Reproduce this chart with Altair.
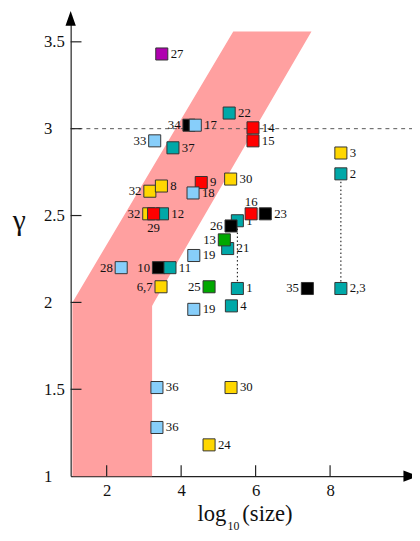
import altair as alt
import pandas as pd

# ---- data ----
labels = ["27", "22", "34", "17", "14", "15", "33", "37", "3", "2",
          "32", "8", "9", "18", "30", "32", "12", "29", "1", "26",
          "16", "23", "21", "13", "19", "28", "10", "11", "6,7", "25",
          "1", "35", "2,3", "4", "19", "36", "30", "36", "24"]
log_size = [3.48, 5.29, 4.21, 4.38, 5.93, 5.93, 3.29, 3.78, 8.29, 8.29,
            3.16, 3.47, 4.54, 4.32, 5.33, 3.13, 3.50, 3.26, 5.51, 5.34,
            5.88, 6.26, 5.25, 5.16, 4.34, 2.39, 3.39, 3.70, 3.46, 4.75,
            5.51, 7.39, 8.29, 5.35, 4.34, 3.35, 5.34, 3.35, 4.75]
gamma = [3.43, 3.09, 3.02, 3.02, 3.005, 2.93, 2.93, 2.89, 2.86, 2.74,
         2.64, 2.67, 2.69, 2.63, 2.71, 2.51, 2.51, 2.51, 2.47, 2.44,
         2.51, 2.51, 2.31, 2.36, 2.27, 2.20, 2.20, 2.20, 2.09, 2.09,
         2.08, 2.08, 2.08, 1.98, 1.96, 1.51, 1.51, 1.28, 1.18]
group = ["purple", "teal", "black", "lightblue", "red", "red", "lightblue", "teal", "yellow", "teal",
         "yellow", "yellow", "red", "lightblue", "yellow", "yellow", "teal", "red", "teal", "black",
         "red", "black", "teal", "green", "lightblue", "lightblue", "black", "teal", "yellow", "green",
         "teal", "black", "teal", "teal", "lightblue", "lightblue", "yellow", "lightblue", "yellow"]
label_side = ["right", "right", "left", "right", "right", "right", "left", "right", "right", "right",
              "left", "right", "right", "right", "right", "left", "right", "below", "right", "left",
              "above", "right", "right", "left", "right", "left", "left", "right", "left", "left",
              "right", "left", "right", "right", "right", "right", "right", "right", "right"]

# same network measured twice (dotted connectors)
link_x = [5.51, 8.29]
link_top = [2.47, 2.74]
link_bottom = [2.08, 2.08]

# shaded band (y, left x, right x)
band_y = [1.0, 1.98, 2.0, 3.56]
band_left = [1.08, 1.08, 1.08, 5.40]
band_right = [3.22, 3.22, 3.27, 7.50]

x_ticks = [2, 4, 6, 8]
y_ticks = [1, 1.5, 2, 2.5, 3, 3.5]
ref_gamma = 3.0

group_names = ["teal", "yellow", "red", "lightblue", "black", "green", "purple"]
group_colors = ["#00a8a8", "#ffd700", "#ff0000", "#87cefa", "#000000", "#00a800", "#b000b0"]

X_DOMAIN = [1.033, 10.2]
Y_DOMAIN = [1.0, 3.65]
W, H = 347, 468
SERIF = "'Liberation Serif', 'Times New Roman', 'DejaVu Serif', serif"

df = pd.DataFrame({"label": labels, "x": log_size, "y": gamma,
                   "group": group, "side": label_side, "idx": list(range(len(labels)))})
band = pd.DataFrame({"y": band_y, "xl": band_left, "xr": band_right})
links = pd.DataFrame({"x": link_x, "y1": link_top, "y2": link_bottom})

xs = alt.Scale(domain=X_DOMAIN, nice=False, zero=False)
ys = alt.Scale(domain=Y_DOMAIN, nice=False, zero=False)

x_axis = alt.Axis(values=x_ticks, title=None, ticks=False, tickSize=0, grid=False,
                  labelFont=SERIF, labelFontSize=17, labelColor="#111", labelPadding=7,
                  labelFlush=False, labelOverlap=False,
                  domainColor="#222", domainWidth=1.2)
y_axis = alt.Axis(values=y_ticks, title=None, ticks=False, tickSize=0, grid=False,
                  labelFont=SERIF, labelFontSize=17, labelColor="#111", labelPadding=27.7,
                  labelAlign="left", labelBaseline="middle", labelExpr="'' + datum.value",
                  labelFlush=False, labelOverlap=False,
                  domainColor="#222", domainWidth=1.2)

band_layer = alt.Chart(band).mark_area(orient="horizontal", color="#ffa0a0", opacity=1).encode(
    y=alt.Y("y:Q", scale=ys, axis=y_axis),
    x=alt.X("xl:Q", scale=xs, axis=x_axis),
    x2="xr:Q",
)

dash_layer = alt.Chart(pd.DataFrame({"g": [ref_gamma]})).mark_rule(
    color="#555", strokeDash=[4, 4], strokeWidth=1).encode(
    y=alt.Y("g:Q", scale=ys), x=alt.value(0), x2=alt.value(W))

link_layer = alt.Chart(links).mark_rule(color="#000", strokeDash=[1.5, 2.5], strokeWidth=1).encode(
    x=alt.X("x:Q", scale=xs), y=alt.Y("y1:Q", scale=ys), y2="y2:Q")

ytick_layer = alt.Chart(pd.DataFrame({"v": y_ticks[1:]})).mark_rule(color="#222", strokeWidth=1.2).encode(
    y=alt.Y("v:Q", scale=ys), x=alt.value(0), x2=alt.value(11))
xtick_layer = alt.Chart(pd.DataFrame({"v": x_ticks})).mark_rule(color="#222", strokeWidth=1.2).encode(
    x=alt.X("v:Q", scale=xs), y=alt.value(H), y2=alt.value(H - 11))

base = alt.Chart(df).encode(x=alt.X("x:Q", scale=xs), y=alt.Y("y:Q", scale=ys), text="label:N")
txt = dict(font=SERIF, fontSize=13, color="#111", baseline="middle")
lab_right = base.transform_filter("datum.side == 'right'").mark_text(align="left", dx=9, **txt)
lab_left = base.transform_filter("datum.side == 'left'").mark_text(align="right", dx=-8.5, **txt)
lab_below = base.transform_filter("datum.side == 'below'").mark_text(align="center", dy=14, **txt)
lab_above = base.transform_filter("datum.side == 'above'").mark_text(align="center", dy=-12, **txt)

squares = alt.Chart(df).mark_square(size=150, opacity=1, stroke="#333", strokeWidth=1).encode(
    x=alt.X("x:Q", scale=xs),
    y=alt.Y("y:Q", scale=ys),
    color=alt.Color("group:N", scale=alt.Scale(domain=group_names, range=group_colors), legend=None),
    order=alt.Order("idx:Q"),
)

arrow_up = alt.Chart(pd.DataFrame({"a": [0]})).mark_point(
    shape="M0,-1L0.7,1L-0.7,1Z", size=225, filled=True, color="#000", opacity=1).encode(
    x=alt.value(0), y=alt.value(2.7))
arrow_right = alt.Chart(pd.DataFrame({"a": [0]})).mark_point(
    shape="M1,0L-1,0.75L-1,-0.75Z", size=225, filled=True, color="#000", opacity=1).encode(
    x=alt.value(345.8), y=alt.value(H))

ttl = dict(font=SERIF, color="#111", baseline="alphabetic")
t_log = alt.Chart(pd.DataFrame({"t": ["log"]})).mark_text(align="right", fontSize=23, **ttl).encode(
    text="t:N", x=alt.value(158.3), y=alt.value(513.5))
t_sub = alt.Chart(pd.DataFrame({"t": ["10"]})).mark_text(align="left", fontSize=12, **ttl).encode(
    text="t:N", x=alt.value(159.5), y=alt.value(522.5))
t_size = alt.Chart(pd.DataFrame({"t": ["(size)"]})).mark_text(align="left", fontSize=23, **ttl).encode(
    text="t:N", x=alt.value(174.5), y=alt.value(513.5))
t_gamma = alt.Chart(pd.DataFrame({"t": ["γ"]})).mark_text(align="center", fontSize=30, **ttl).encode(
    text="t:N", x=alt.value(-52.2), y=alt.value(217.5))

chart = alt.layer(
    band_layer, dash_layer, link_layer, ytick_layer, xtick_layer,
    lab_right, lab_left, lab_below, lab_above, squares,
    arrow_up, arrow_right, t_log, t_sub, t_size, t_gamma,
).properties(
    width=W, height=H,
    autosize=alt.AutoSizeParams(type="none"),
    padding={"left": 63.7, "top": 3.5, "right": 0, "bottom": 58},
).configure_view(stroke=None)

chart.save("out.html", embed_options={"renderer": "svg", "actions": False})
